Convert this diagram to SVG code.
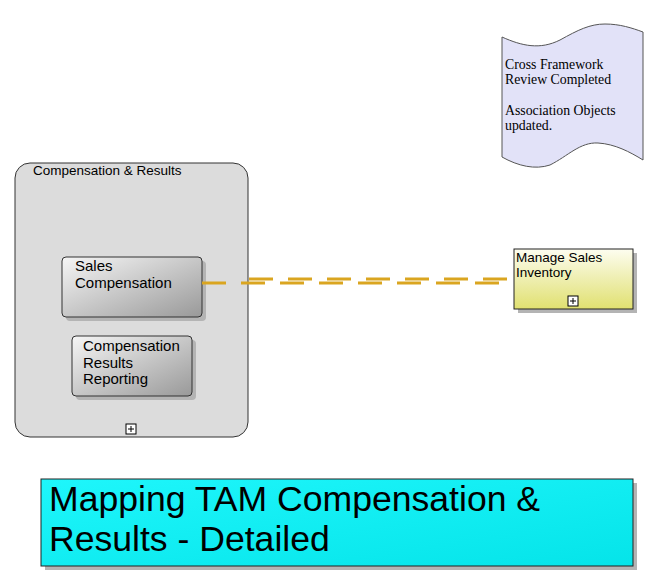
<svg xmlns="http://www.w3.org/2000/svg" width="659" height="587" viewBox="0 0 659 587">
<style>
.sans{font-family:"Liberation Sans",Arial,sans-serif;fill:#000}
.serif{font-family:"Liberation Serif","Times New Roman",serif;fill:#000;font-size:13.8px}
.shadow{fill:#b4b4b4}
.conn{fill:none;stroke:#DAA520;stroke-width:3;stroke-dasharray:24 15}
.icon{fill:#fff;stroke:#000;stroke-width:1}
</style>
<defs>
<linearGradient id="gGray" x1="0" y1="0" x2="1" y2="1">
<stop offset="0" stop-color="#f6f6f6"/>
<stop offset="1" stop-color="#999"/>
</linearGradient>
<linearGradient id="gYellow" x1="0" y1="0" x2="0" y2="1">
<stop offset="0" stop-color="#fdfdf0"/>
<stop offset="1" stop-color="#e0e070"/>
</linearGradient>
<linearGradient id="gCyan" x1="0" y1="0" x2="1" y2="1">
<stop offset="0" stop-color="#1ef6fb"/>
<stop offset="1" stop-color="#05e4e9"/>
</linearGradient>
</defs>

<g id="doc-note">
<path d="M502,37 C522,46 540,50 560,40 C578,30 590,24 605,24 C620,24 632,28 643,32 L643,160 C630,152 615,144 598,143 C580,142 568,156 550,165 C535,170 518,166 502,157 Z" fill="#e2e2f8" stroke="#555" stroke-width="1"/>
<text class="serif" x="505" y="69">Cross Framework</text>
<text class="serif" x="505" y="84">Review Completed</text>
<text class="serif" x="505" y="115">Association Objects</text>
<text class="serif" x="505" y="130">updated.</text>
</g>

<g id="compensation-results">
<rect x="15" y="163" width="233" height="274" rx="15" ry="15" fill="#dcdcdc" stroke="#333" stroke-width="1"/>
<text class="sans" x="33" y="175" font-size="13.5">Compensation &amp; Results</text>
<rect class="icon" x="126" y="424" width="10" height="10"/>
<path d="M128,429 H134 M131,426 V432" stroke="#000" stroke-width="1"/>
</g>

<g id="sales-compensation">
<rect class="shadow" x="66" y="261" width="140" height="60" rx="4"/>
<rect x="62" y="257" width="140" height="60" rx="4" fill="url(#gGray)" stroke="#333" stroke-width="1"/>
<text class="sans" x="75" y="271" font-size="15">Sales</text>
<text class="sans" x="75" y="288" font-size="15">Compensation</text>
</g>

<g id="compensation-results-reporting">
<rect class="shadow" x="76" y="340" width="120" height="60" rx="4"/>
<rect x="72" y="336" width="120" height="60" rx="4" fill="url(#gGray)" stroke="#333" stroke-width="1"/>
<text class="sans" x="83" y="351" font-size="15">Compensation</text>
<text class="sans" x="83" y="368" font-size="15">Results</text>
<text class="sans" x="83" y="384" font-size="15">Reporting</text>
</g>

<g id="manage-sales-inventory">
<rect class="shadow" x="518" y="253" width="119" height="60"/>
<rect x="514" y="249" width="119" height="60" fill="url(#gYellow)" stroke="#222" stroke-width="1"/>
<text class="sans" x="516" y="262" font-size="13.5">Manage Sales</text>
<text class="sans" x="516" y="277" font-size="13.5">Inventory</text>
<rect class="icon" x="568" y="296" width="10" height="10"/>
<path d="M570,301 H576 M573,298 V304" stroke="#000" stroke-width="1"/>
</g>

<g id="title">
<rect class="shadow" x="45" y="483" width="592" height="87"/>
<rect x="41" y="479" width="592" height="87" fill="url(#gCyan)" stroke="#222" stroke-width="1"/>
<text class="sans" x="49" y="511" font-size="35.6">Mapping TAM Compensation &amp;</text>
<text class="sans" x="49" y="551" font-size="35.6">Results - Detailed</text>
</g>

<g id="connectors">
<line class="conn" x1="202" y1="283" x2="501" y2="283"/>
<line class="conn" x1="249" y1="279" x2="510" y2="279"/>
</g>
</svg>
